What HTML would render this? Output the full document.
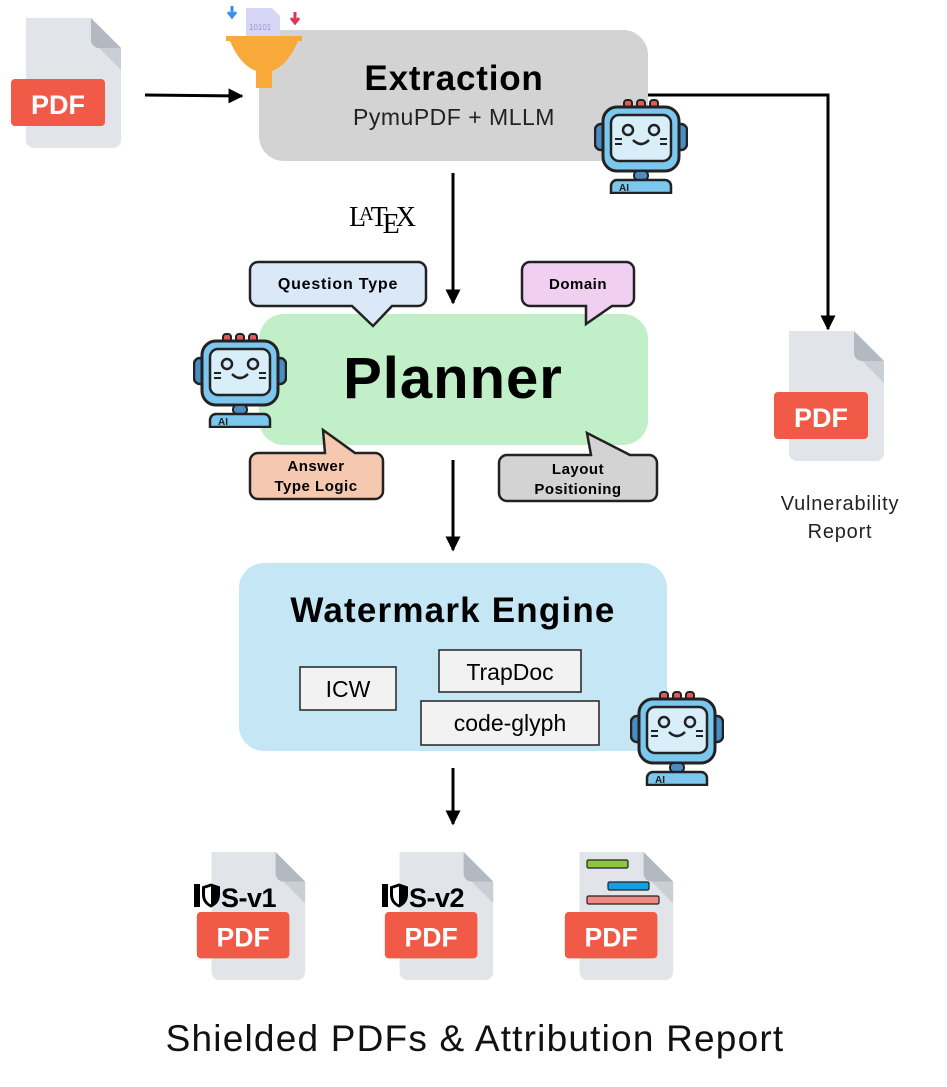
<!DOCTYPE html>
<html><head><meta charset="utf-8"><style>
html,body{margin:0;padding:0;background:#fff;}
svg{display:block;}
text{font-family:"Liberation Sans","DejaVu Sans",sans-serif;}
text.serif{font-family:"Liberation Serif","DejaVu Serif",serif;}
</style></head><body>
<svg width="947" height="1087" viewBox="0 0 947 1087" xmlns="http://www.w3.org/2000/svg">
<defs>
<marker id="ah" viewBox="0 0 10 10" refX="9" refY="5" markerWidth="5" markerHeight="5" orient="auto"><path d="M0,0 L10,5 L0,10 z" fill="#000"/></marker>
<symbol id="pdf" viewBox="0 0 110 130">
<path d="M15,0 H80 L110,30 V122 a8,8 0 0 1 -8,8 H23 a8,8 0 0 1 -8,-8 z" fill="#e1e4e8"/>
<path d="M80,0 V22 a8,8 0 0 0 8,8 H110 z" fill="#b3b9c0"/>
<path d="M88,30 H110 V52 z" fill="#c9cfd5"/>
<rect x="0" y="61" width="94" height="47" rx="4" fill="#f05a46"/>
<text x="47" y="96" text-anchor="middle" font-size="27" font-weight="bold" fill="#fff">PDF</text>
</symbol>
<symbol id="robot" viewBox="0 0 94 96">
<rect x="30" y="2" width="8" height="8" rx="3" fill="#e05a5a" stroke="#222" stroke-width="2"/>
<rect x="43" y="2" width="8" height="8" rx="3" fill="#e05a5a" stroke="#222" stroke-width="2"/>
<rect x="56" y="2" width="8" height="8" rx="3" fill="#e05a5a" stroke="#222" stroke-width="2"/>
<rect x="1" y="26" width="12" height="26" rx="6" fill="#4a8cc4" stroke="#222" stroke-width="2.5"/>
<rect x="81" y="26" width="12" height="26" rx="6" fill="#4a8cc4" stroke="#222" stroke-width="2.5"/>
<rect x="9" y="9" width="76" height="64" rx="14" fill="#7cc7ee" stroke="#222" stroke-width="3"/>
<rect x="17" y="17" width="60" height="46" rx="8" fill="#d8eef9" stroke="#222" stroke-width="2.5"/>
<circle cx="34" cy="32" r="5" fill="none" stroke="#222" stroke-width="2.5"/>
<circle cx="60" cy="32" r="5" fill="none" stroke="#222" stroke-width="2.5"/>
<path d="M39,42 q8,8 16,0" fill="none" stroke="#222" stroke-width="2.5"/>
<path d="M21,41 h7 M21,46 h7 M66,41 h7 M66,46 h7" stroke="#222" stroke-width="2"/>
<rect x="40" y="73" width="14" height="9" rx="4" fill="#4a8cc4" stroke="#222" stroke-width="2"/>
<path d="M17,95 V88 a6,6 0 0 1 6,-6 H71 a6,6 0 0 1 6,6 V95 z" fill="#7cc7ee" stroke="#222" stroke-width="2.5"/>
<text x="25" y="93" font-size="10" font-weight="bold" fill="#222">AI</text>
</symbol>
<symbol id="shield" viewBox="0 0 20 26">
<path d="M10,1 L19,4 V12 Q19,21 10,25 Q1,21 1,12 V4 z" fill="#000"/>
<path d="M10,4 L10,22 Q4,19 4,12 V6 z" fill="#fff"/>
</symbol>
</defs>

<use href="#pdf" x="10" y="18" width="112" height="130"/>
<line x1="145" y1="95" x2="242" y2="96" stroke="#000" stroke-width="3" marker-end="url(#ah)"/>

<rect x="259" y="30" width="389" height="131" rx="25" fill="#d3d3d3"/>
<text x="454" y="90" text-anchor="middle" font-size="35" font-weight="bold" letter-spacing="0.8">Extraction</text>
<text x="454" y="125" text-anchor="middle" font-size="23" fill="#222" letter-spacing="0.5">PymuPDF + MLLM</text>
<path d="M246,8 h26 l8,8 v22 h-34 z" fill="#d8d6f5"/>
<text x="249" y="30" font-size="8" fill="#9a98d8">10101</text>
<path d="M232,6 v10 M228,12 l4,5 l4,-5" stroke="#3b8fe8" stroke-width="3" fill="none"/>
<path d="M295,12 v10 M291,18 l4,5 l4,-5" stroke="#e03355" stroke-width="3" fill="none"/>
<path d="M226,36 h76 v5 h-4 q-10,24 -26,30 v17 h-16 v-17 q-16,-6 -26,-30 h-4 z" fill="#f8a93a"/>
<use href="#robot" x="594" y="98" width="94" height="96"/>

<polyline points="648,95 828,95 828,329" fill="none" stroke="#000" stroke-width="3" marker-end="url(#ah)"/>
<use href="#pdf" x="773" y="331" width="112" height="130"/>
<text x="840" y="510" text-anchor="middle" font-size="20" fill="#222" letter-spacing="0.8">Vulnerability</text>
<text x="840" y="538" text-anchor="middle" font-size="20" fill="#222" letter-spacing="0.8">Report</text>

<text class="serif" x="349" y="226" font-size="28">L<tspan font-size="20" dx="-7" dy="-6">A</tspan><tspan dx="-3" dy="6">T</tspan><tspan dx="-5" dy="7">E</tspan><tspan dx="-4" dy="-7">X</tspan></text>
<line x1="453" y1="173" x2="453" y2="303" stroke="#000" stroke-width="3" marker-end="url(#ah)"/>

<rect x="259" y="314" width="389" height="131" rx="25" fill="#c1f0c8"/>
<text x="453" y="398" text-anchor="middle" font-size="58" font-weight="bold" letter-spacing="1">Planner</text>
<use href="#robot" x="193" y="332" width="94" height="96"/>

<path d="M258,262 H418 a8,8 0 0 1 8,8 V298 a8,8 0 0 1 -8,8 H392 L373,326 L352,306 H258 a8,8 0 0 1 -8,-8 V270 a8,8 0 0 1 8,-8 z" fill="#dae8f8" stroke="#222" stroke-width="2.5"/>
<text x="338" y="289" text-anchor="middle" font-size="16" font-weight="bold" letter-spacing="0.8">Question Type</text>
<path d="M530,262 H626 a8,8 0 0 1 8,8 V298 a8,8 0 0 1 -8,8 H612 L586,324 L586,306 H530 a8,8 0 0 1 -8,-8 V270 a8,8 0 0 1 8,-8 z" fill="#f0cff0" stroke="#222" stroke-width="2.5"/>
<text x="578" y="289" text-anchor="middle" font-size="15" font-weight="bold" letter-spacing="0.5">Domain</text>
<path d="M258,453 H325 L323,430 L355,453 H375 a8,8 0 0 1 8,8 V491 a8,8 0 0 1 -8,8 H258 a8,8 0 0 1 -8,-8 V461 a8,8 0 0 1 8,-8 z" fill="#f6c8b0" stroke="#222" stroke-width="2.5"/>
<text x="316" y="471" text-anchor="middle" font-size="15" font-weight="bold" letter-spacing="0.5">Answer</text>
<text x="316" y="491" text-anchor="middle" font-size="15" font-weight="bold" letter-spacing="0.5">Type Logic</text>
<path d="M507,455 H591 L587,433 L630,455 H649 a8,8 0 0 1 8,8 V493 a8,8 0 0 1 -8,8 H507 a8,8 0 0 1 -8,-8 V463 a8,8 0 0 1 8,-8 z" fill="#d3d3d3" stroke="#222" stroke-width="2.5"/>
<text x="578" y="474" text-anchor="middle" font-size="15" font-weight="bold" letter-spacing="0.5">Layout</text>
<text x="578" y="494" text-anchor="middle" font-size="15" font-weight="bold" letter-spacing="0.5">Positioning</text>

<line x1="453" y1="460" x2="453" y2="550" stroke="#000" stroke-width="3" marker-end="url(#ah)"/>

<rect x="239" y="563" width="428" height="188" rx="25" fill="#c4e6f5"/>
<text x="453" y="622" text-anchor="middle" font-size="35" font-weight="bold" letter-spacing="1.2">Watermark Engine</text>
<rect x="300" y="667" width="96" height="43" fill="#f2f2f2" stroke="#222" stroke-width="1.5"/>
<text x="348" y="697" text-anchor="middle" font-size="23">ICW</text>
<rect x="439" y="650" width="142" height="42" fill="#f2f2f2" stroke="#222" stroke-width="1.5"/>
<text x="510" y="680" text-anchor="middle" font-size="23">TrapDoc</text>
<rect x="421" y="701" width="178" height="44" fill="#f2f2f2" stroke="#222" stroke-width="1.5"/>
<text x="510" y="731" text-anchor="middle" font-size="23">code-glyph</text>
<use href="#robot" x="630" y="690" width="94" height="96"/>

<line x1="453" y1="768" x2="453" y2="824" stroke="#000" stroke-width="3" marker-end="url(#ah)"/>

<use href="#pdf" x="195" y="852" width="112" height="128"/>
<rect x="194" y="884" width="6" height="23" fill="#000"/>
<use href="#shield" x="201" y="882" width="20" height="27"/>
<text x="221" y="907" font-size="27" font-weight="bold" letter-spacing="-0.5">S-v1</text>
<use href="#pdf" x="383" y="852" width="112" height="128"/>
<rect x="382" y="884" width="6" height="23" fill="#000"/>
<use href="#shield" x="389" y="882" width="20" height="27"/>
<text x="409" y="907" font-size="27" font-weight="bold" letter-spacing="-0.5">S-v2</text>
<use href="#pdf" x="563" y="852" width="112" height="128"/>
<rect x="587" y="860" width="41" height="8" rx="1.5" fill="#8dc63f" stroke="#222" stroke-width="1.2"/>
<rect x="608" y="882" width="41" height="8" rx="1.5" fill="#12a0e0" stroke="#222" stroke-width="1.2"/>
<rect x="587" y="896" width="72" height="8" rx="1.5" fill="#f28a82" stroke="#222" stroke-width="1.2"/>

<text x="475" y="1051" text-anchor="middle" font-size="37" fill="#111" letter-spacing="1.2">Shielded PDFs &amp; Attribution Report</text>
</svg>
</body></html>
